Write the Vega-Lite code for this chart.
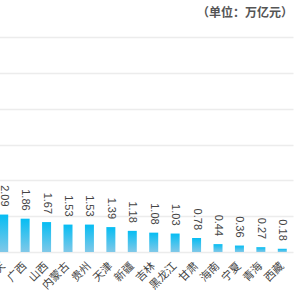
{
  "$schema": "https://vega.github.io/schema/vega-lite/v6.json",
  "width": 300,
  "height": 215,
  "autosize": {"type": "none"},
  "padding": {"left": -7, "top": 37, "right": 7, "bottom": 48},
  "background": "white",
  "title": {
    "text": "（单位：万亿元）",
    "anchor": "end",
    "frame": "group",
    "fontSize": 12,
    "fontWeight": "bold",
    "color": "#555555",
    "font": "Noto Sans CJK SC",
    "offset": 17
  },
  "config": {
    "view": {"stroke": null},
    "font": "Liberation Sans, Noto Sans CJK SC"
  },
  "data": {
    "values": [
      {"province": "重庆", "value": 2.09},
      {"province": "广西", "value": 1.86},
      {"province": "山西", "value": 1.67},
      {"province": "内蒙古", "value": 1.53},
      {"province": "贵州", "value": 1.53},
      {"province": "天津", "value": 1.39},
      {"province": "新疆", "value": 1.18},
      {"province": "吉林", "value": 1.08},
      {"province": "黑龙江", "value": 1.03},
      {"province": "甘肃", "value": 0.78},
      {"province": "海南", "value": 0.44},
      {"province": "宁夏", "value": 0.36},
      {"province": "青海", "value": 0.27},
      {"province": "西藏", "value": 0.18}
    ]
  },
  "encoding": {
    "x": {
      "field": "province",
      "type": "nominal",
      "sort": null,
      "scale": {"paddingInner": 0.58, "paddingOuter": 0.29},
      "axis": {
        "title": null,
        "labelAngle": -45,
        "labelAlign": "right",
        "labelBaseline": "middle",
        "labelOffset": 0,
        "labelFontSize": 11,
        "labelColor": "#444444",
        "labelFont": "Noto Sans CJK SC",
        "labelPadding": 12,
        "ticks": false,
        "domain": false
      }
    },
    "y": {
      "field": "value",
      "type": "quantitative",
      "scale": {"domain": [0, 12], "nice": false},
      "axis": {
        "title": null,
        "labels": false,
        "ticks": false,
        "domain": false,
        "values": [0, 2, 4, 6, 8, 10, 12],
        "grid": true,
        "gridColor": "#ececec",
        "gridWidth": 1.5
      }
    }
  },
  "layer": [
    {
      "mark": {
        "type": "bar",
        "color": {
          "gradient": "linear",
          "x1": 0, "y1": 0, "x2": 0, "y2": 1,
          "stops": [
            {"offset": 0, "color": "#05bdf3"},
            {"offset": 1, "color": "#80c8e8"}
          ]
        }
      }
    },
    {
      "mark": {
        "type": "text",
        "angle": 90,
        "align": "right",
        "baseline": "middle",
        "dx": -8,
        "fontSize": 11,
        "color": "#444444"
      },
      "encoding": {"text": {"field": "value", "type": "quantitative", "format": ".2f"}}
    }
  ]
}
